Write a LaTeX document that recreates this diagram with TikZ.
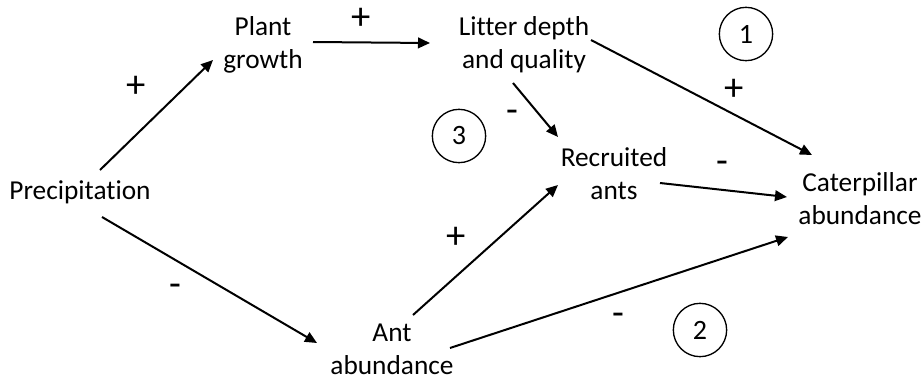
\documentclass[tikz,border=0pt]{standalone}
\usepackage{fontspec}
\setmainfont[Ligatures=NoCommon]{Carlito}
\usetikzlibrary{arrows.meta}
\tikzstyle{factor} = [align=center, inner sep=0pt, font=\fontsize{20.5pt}{24.7pt}\selectfont]
\tikzstyle{sign} = [inner sep=0pt, font=\fontsize{29pt}{30pt}\selectfont]
\tikzstyle{path} = [circle, draw=black, line width=1pt, minimum size=40pt, inner sep=0pt, font=\fontsize{21pt}{24.7pt}\selectfont]
\tikzstyle{arrow} = [line width=1.5pt, -{Triangle[length=9pt,width=8pt]}]

\begin{document}
\begin{tikzpicture}[x=0.75pt, y=-0.75pt]
			\useasboundingbox (0,0) rectangle (922,379);
			% Nodes
			\node (precip) [factor] at (80,192) {Precipitation};
			\node (plant) [factor] at (263,45) {Plant\\growth};
			\node (litter) [factor] at (524,45) {Litter depth\\and quality};
			\node (recruited) [factor] at (614,174) {Recruited\\ants};
			\node (caterpillar) [factor] at (860,199) {Caterpillar\\abundance};
			\node (ant) [factor] at (392,349) {Ant\\abundance};
			
			% Pathway numbers
			\node (one) [path] at (746,34) {1};
			\node (two) [path] at (700,330) {2};
			\node (three) [path] at (459,136) {3};
			
			% Arrows
			\draw [arrow] ([shift={(20,-22)}]precip.center) -- ([shift={(-50,15)}]plant.center);
			\draw [arrow] ([shift={(50,-3)}]plant.center) -- ([shift={(-94,-2)}]litter.center);
			\draw [arrow] ([shift={(67,-5)}]litter.center) -- ([shift={(-48,-44)}]caterpillar.center);
			\draw [arrow] ([shift={(-11,38)}]litter.center) -- ([shift={(-56,-37)}]recruited.center);
			\draw [arrow] ([shift={(46,9)}]recruited.center) -- ([shift={(-73,-2)}]caterpillar.center);
			\draw [arrow] ([shift={(22,25)}]precip.center) -- ([shift={(-75,-6)}]ant.center);
			\draw [arrow] ([shift={(21,-34)}]ant.center) -- ([shift={(-56,11)}]recruited.center);
			\draw [arrow] ([shift={(58,-1)}]ant.center) -- ([shift={(-72,38)}]caterpillar.center);
			
			% Signs
			\node (s1) [sign] at (136,87) {+};
			\node (s2) [sign] at (361,19) {+};
			\node (s3) [sign] at (734,90) {+};
			\node (s4) [sign] at (512,116) {-};
			\node (s5) [sign] at (722,167) {-};
			\node (s6) [sign] at (175,290) {-};
			\node (s7) [sign] at (456,238) {+};
			\node (s8) [sign] at (618,319) {-};
		\end{tikzpicture}
\end{document}
